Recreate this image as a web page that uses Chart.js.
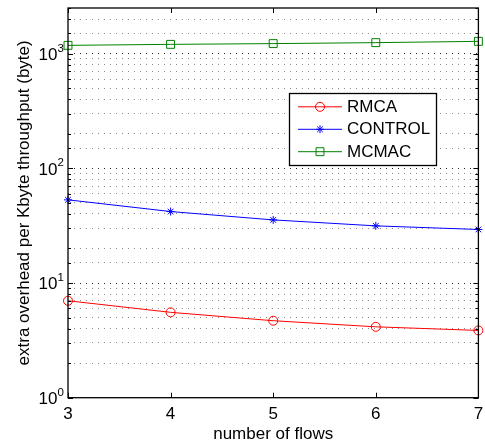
<!DOCTYPE html>
<html><head><meta charset="utf-8">
<style>html,body{margin:0;padding:0;background:#fff;overflow:hidden}canvas{display:block}</style>
<script src="https://cdn.jsdelivr.net/npm/chart.js@4/dist/chart.umd.min.js"></script>
</head><body>
<canvas id="c" width="485" height="443"></canvas>
<script>
// ---- data ----
const flows = [3, 4, 5, 6, 7];
const rmca = [7.0, 5.55, 4.69, 4.15, 3.86];
const control = [53.1, 42.0, 35.5, 31.5, 29.3];
const mcmac = [1181, 1205, 1223, 1247, 1280];
const seriesNames = ['RMCA', 'CONTROL', 'MCMAC'];
const xTickLabels = ['3', '4', '5', '6', '7'];
const yTickExponents = [0, 1, 2, 3];
const xTitle = 'number of flows';
const yTitle = 'extra overhead per Kbyte throughput (byte)';

const FONT = '"Liberation Sans", Arial, Helvetica, sans-serif';

function isMajor(v) {
  const l = Math.log10(v);
  return Math.abs(l - Math.round(l)) < 1e-9;
}

const deco = {
  id: 'deco',
  afterDraw(chart) {
    const ctx = chart.ctx, a = chart.chartArea;
    const xs = chart.scales.x, ys = chart.scales.y;
    ctx.save();
    // ticks (inward)
    ctx.strokeStyle = '#000';
    ctx.lineWidth = 1;
    ctx.beginPath();
    flows.forEach(v => {
      const px = Math.round(xs.getPixelForValue(v)) + 0.5;
      ctx.moveTo(px, a.bottom); ctx.lineTo(px, a.bottom - 5);
      ctx.moveTo(px, a.top); ctx.lineTo(px, a.top + 5);
    });
    ys.ticks.forEach(t => {
      const v = t.value;
      if (v > ys.max || v < ys.min) return;
      const py = Math.round(ys.getPixelForValue(v)) + 0.5;
      const len = isMajor(v) ? 5 : 3;
      ctx.moveTo(a.left, py); ctx.lineTo(a.left + len, py);
      ctx.moveTo(a.right, py); ctx.lineTo(a.right - len, py);
    });
    ctx.stroke();
    // box
    ctx.lineWidth = 1.3;
    ctx.strokeRect(a.left, a.top, a.right - a.left, a.bottom - a.top);

    // y tick labels with superscripts
    ctx.fillStyle = '#000';
    yTickExponents.forEach(e => {
      const py = ys.getPixelForValue(Math.pow(10, e));
      ctx.font = '17px ' + FONT;
      ctx.textAlign = 'right';
      ctx.textBaseline = 'alphabetic';
      ctx.fillText('10', 57.5, py + 6.3);
      ctx.font = '11.5px ' + FONT;
      ctx.textAlign = 'left';
      ctx.fillText(String(e), 57.5, py - 2);
    });
    // x tick labels
    ctx.font = '17px ' + FONT;
    ctx.textAlign = 'center';
    xTickLabels.forEach((lab, i) => {
      const px = xs.getPixelForValue(flows[i]);
      ctx.fillText(lab, px, 418.7);
    });
    // x title
    ctx.fillText(xTitle, (a.left + a.right) / 2, 438.5);
    // y title
    ctx.save();
    ctx.translate(28.5, (a.top + a.bottom) / 2);
    ctx.rotate(-Math.PI / 2);
    ctx.textAlign = 'center';
    ctx.fillText(yTitle, 0, 0);
    ctx.restore();

    // legend
    const lx = 289.5, ly = 93.5, lw = 147, lh = 72;
    ctx.fillStyle = '#fff';
    ctx.fillRect(lx, ly, lw, lh);
    ctx.strokeStyle = '#000';
    ctx.lineWidth = 1.3;
    ctx.strokeRect(lx, ly, lw, lh);
    const rows = [106.8, 129.3, 151.7];
    chart.data.datasets.forEach((ds, i) => {
      const y = rows[i];
      ctx.strokeStyle = ds.borderColor;
      ctx.lineWidth = 1;
      ctx.beginPath();
      ctx.moveTo(298, y); ctx.lineTo(342, y);
      ctx.stroke();
      ctx.lineWidth = 1;
      ctx.fillStyle = 'rgba(0,0,0,0)';
      ctx.strokeStyle = ds.borderColor;
      Chart.helpers.drawPoint(ctx, {
        pointStyle: ds.pointStyle, radius: ds.pointRadius, borderWidth: 1, rotation: 0
      }, 320, y);
      ctx.fillStyle = '#000';
      ctx.font = '17px ' + FONT;
      ctx.textAlign = 'left';
      ctx.textBaseline = 'middle';
      ctx.fillText(ds.label, 347, y + 0.5);
    });
    ctx.restore();
  }
};

const mk = (label, data, color, style, r) => ({
  label, data: flows.map((x, i) => ({ x, y: data[i] })),
  borderColor: color, backgroundColor: color,
  pointBorderColor: color, pointBackgroundColor: 'rgba(0,0,0,0)',
  pointStyle: style, pointRadius: r, pointBorderWidth: 1,
  borderWidth: 1, tension: 0, clip: false, fill: false
});

new Chart(document.getElementById('c'), {
  type: 'line',
  data: {
    datasets: [
      mk(seriesNames[0], rmca, '#ff0000', 'circle', 4.5),
      mk(seriesNames[1], control, '#0000ff', 'star', 4),
      mk(seriesNames[2], mcmac, '#008000', 'rect', 5.6)
    ]
  },
  options: {
    responsive: false,
    animation: false,
    devicePixelRatio: 1,
    layout: { padding: { left: 68, right: 1.5, top: 8, bottom: 45.3 } },
    plugins: { legend: { display: false }, tooltip: { enabled: false } },
    scales: {
      x: {
        type: 'linear', min: 3, max: 7,
        ticks: { display: false, stepSize: 1 },
        grid: { display: false, drawTicks: false },
        border: { display: false }
      },
      y: {
        type: 'logarithmic', min: 1, max: 2500,
        ticks: { display: false, autoSkip: false },
        grid: {
          drawTicks: false,
          lineWidth: 1,
          color: c => {
            const v = c.tick ? c.tick.value : 0;
            if (v >= 2500 || v <= 1) return 'rgba(0,0,0,0)';
            return isMajor(v) ? 'rgba(0,0,0,0.85)' : 'rgba(0,0,0,0.45)';
          }
        },
        border: { display: false, dash: [1, 5] }
      }
    }
  },
  plugins: [deco]
});
</script>
</body></html>
